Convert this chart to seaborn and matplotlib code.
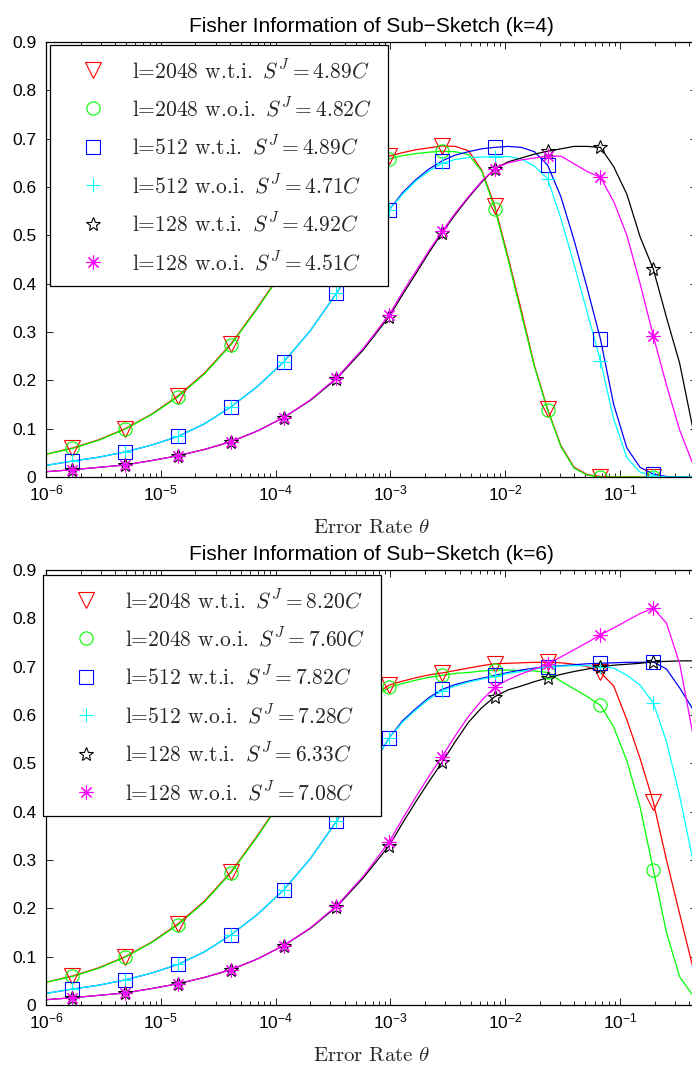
import matplotlib
matplotlib.use("Agg")
import matplotlib.pyplot as plt
import seaborn as sns
from matplotlib.font_manager import FontProperties
from matplotlib.ticker import FixedLocator, FixedFormatter, LogLocator, NullFormatter

# ---------------- data ----------------
THETA = [1.000e-6, 1.698e-6, 2.884e-6, 4.898e-6, 8.318e-6, 1.413e-5, 2.399e-5,
         4.074e-5, 6.918e-5, 1.175e-4, 1.995e-4, 3.388e-4, 5.754e-4,
         9.772e-4, 1.274e-3, 1.660e-3, 2.163e-3, 2.818e-3, 3.673e-3, 4.786e-3,
         6.237e-3, 8.128e-3, 1.059e-2, 1.380e-2, 1.799e-2, 2.344e-2, 3.055e-2,
         3.981e-2, 5.188e-2, 6.761e-2, 8.810e-2, 0.1148, 0.1496, 0.1950,
         0.2541, 0.3311, 0.4315, 0.5623]
MARKER_THETA = [1.698e-6, 4.898e-6, 1.413e-5, 4.074e-5, 1.175e-4, 3.388e-4,
                9.772e-4, 2.818e-3, 8.128e-3, 2.344e-2, 6.761e-2, 0.1950]

TITLES = ["Fisher Information of Sub\u2212Sketch (k=4)",
          "Fisher Information of Sub\u2212Sketch (k=6)"]
SERIES_NAMES = ["l=2048 w.t.i.", "l=2048 w.o.i.", "l=512 w.t.i.",
                "l=512 w.o.i.", "l=128 w.t.i.", "l=128 w.o.i."]
SJ_K4 = ["4.89", "4.82", "4.89", "4.71", "4.92", "4.51"]
SJ_K6 = ["8.20", "7.60", "7.82", "7.28", "6.33", "7.08"]

# k = 4
RED_K4 = [0.047, 0.060, 0.077, 0.100, 0.130, 0.168, 0.215, 0.275, 0.350, 0.430, 0.510, 0.575, 0.625,
          0.664, 0.671, 0.677, 0.681, 0.685, 0.684, 0.675, 0.635, 0.560, 0.455, 0.345, 0.230, 0.140,
          0.065, 0.020, 0.005, 0.001, 0.0, 0.0, 0.0, 0.0, 0.0, 0.0, 0.0, 0.0]
GREEN_K4 = [0.047, 0.059, 0.076, 0.099, 0.129, 0.166, 0.213, 0.273, 0.348, 0.428, 0.505, 0.570, 0.620,
            0.658, 0.665, 0.669, 0.672, 0.674, 0.673, 0.667, 0.633, 0.555, 0.450, 0.338, 0.228, 0.138,
            0.063, 0.018, 0.004, 0.0, 0.0, 0.0, 0.0, 0.0, 0.0, 0.0, 0.0, 0.0]
BLUE_K4 = [0.024, 0.033, 0.041, 0.052, 0.066, 0.084, 0.110, 0.145, 0.187, 0.238, 0.302, 0.380, 0.465,
           0.553, 0.588, 0.615, 0.637, 0.654, 0.666, 0.673, 0.679, 0.682, 0.684, 0.682, 0.673, 0.645,
           0.580, 0.490, 0.390, 0.285, 0.150, 0.060, 0.020, 0.006, 0.001, 0.0, 0.0, 0.0]
CYAN_K4 = [0.024, 0.033, 0.041, 0.052, 0.066, 0.084, 0.110, 0.145, 0.187, 0.238, 0.302, 0.380, 0.465,
           0.553, 0.585, 0.612, 0.633, 0.649, 0.657, 0.661, 0.662, 0.663, 0.663, 0.658, 0.643, 0.617,
           0.535, 0.440, 0.340, 0.240, 0.120, 0.040, 0.010, 0.003, 0.0, 0.0, 0.0, 0.0]
BLACK_K4 = [0.011, 0.015, 0.020, 0.025, 0.034, 0.044, 0.057, 0.073, 0.095, 0.123, 0.158, 0.203, 0.262,
            0.332, 0.377, 0.420, 0.464, 0.505, 0.543, 0.578, 0.610, 0.638, 0.652, 0.660, 0.668, 0.674,
            0.679, 0.684, 0.684, 0.682, 0.642, 0.585, 0.497, 0.430, 0.330, 0.235, 0.100, 0.010]
MAGENTA_K4 = [0.011, 0.015, 0.020, 0.025, 0.034, 0.044, 0.057, 0.073, 0.095, 0.123, 0.159, 0.205, 0.265,
              0.336, 0.382, 0.425, 0.468, 0.508, 0.546, 0.580, 0.612, 0.638, 0.650, 0.656, 0.660, 0.664,
              0.664, 0.648, 0.632, 0.620, 0.570, 0.500, 0.400, 0.292, 0.190, 0.097, 0.027, 0.003]

# k = 6
RED_K6 = [0.047, 0.060, 0.077, 0.100, 0.130, 0.168, 0.215, 0.275, 0.350, 0.430, 0.510, 0.575, 0.625,
          0.662, 0.670, 0.677, 0.683, 0.687, 0.692, 0.697, 0.702, 0.706, 0.707, 0.708, 0.709, 0.709,
          0.708, 0.705, 0.700, 0.688, 0.660, 0.590, 0.510, 0.420, 0.300, 0.188, 0.078, 0.010]
GREEN_K6 = [0.047, 0.059, 0.076, 0.099, 0.129, 0.166, 0.213, 0.273, 0.348, 0.428, 0.505, 0.570, 0.620,
            0.657, 0.665, 0.672, 0.678, 0.682, 0.686, 0.688, 0.691, 0.693, 0.693, 0.692, 0.691, 0.688,
            0.670, 0.654, 0.638, 0.620, 0.575, 0.505, 0.410, 0.280, 0.150, 0.058, 0.020, 0.005]
BLUE_K6 = [0.024, 0.033, 0.041, 0.052, 0.066, 0.084, 0.110, 0.145, 0.187, 0.238, 0.302, 0.380, 0.465,
           0.553, 0.588, 0.613, 0.636, 0.653, 0.663, 0.670, 0.676, 0.682, 0.688, 0.693, 0.697, 0.700,
           0.702, 0.704, 0.706, 0.707, 0.708, 0.709, 0.709, 0.710, 0.695, 0.656, 0.612, 0.550]
CYAN_K6 = [0.024, 0.033, 0.041, 0.052, 0.066, 0.084, 0.110, 0.145, 0.187, 0.238, 0.302, 0.380, 0.465,
           0.553, 0.585, 0.610, 0.633, 0.650, 0.660, 0.668, 0.674, 0.680, 0.686, 0.690, 0.695, 0.700,
           0.701, 0.702, 0.702, 0.700, 0.697, 0.682, 0.662, 0.625, 0.545, 0.432, 0.300, 0.170]
BLACK_K6 = [0.011, 0.015, 0.020, 0.025, 0.034, 0.044, 0.057, 0.073, 0.095, 0.123, 0.158, 0.203, 0.262,
            0.330, 0.376, 0.420, 0.462, 0.502, 0.545, 0.585, 0.615, 0.638, 0.652, 0.660, 0.669, 0.677,
            0.684, 0.690, 0.695, 0.700, 0.703, 0.705, 0.707, 0.710, 0.711, 0.712, 0.712, 0.712]
MAGENTA_K6 = [0.011, 0.015, 0.020, 0.025, 0.034, 0.044, 0.057, 0.073, 0.095, 0.123, 0.159, 0.205, 0.265,
              0.338, 0.385, 0.430, 0.473, 0.514, 0.557, 0.597, 0.630, 0.658, 0.673, 0.685, 0.695, 0.705,
              0.720, 0.735, 0.750, 0.766, 0.780, 0.795, 0.810, 0.821, 0.790, 0.706, 0.560, 0.400]

X_TICKS = [1e-6, 1e-5, 1e-4, 1e-3, 1e-2, 1e-1]
X_TICK_LABELS = ["$10^{-6}$", "$10^{-5}$", "$10^{-4}$", "$10^{-3}$", "$10^{-2}$", "$10^{-1}$"]
Y_TICKS = [0.0, 0.1, 0.2, 0.3, 0.4, 0.5, 0.6, 0.7, 0.8, 0.9]
Y_TICK_LABELS = ["0", "0.1", "0.2", "0.3", "0.4", "0.5", "0.6", "0.7", "0.8", "0.9"]
X_LABEL = "Error Rate $\\theta$"

PANELS = [
    (TITLES[0], [RED_K4, GREEN_K4, BLUE_K4, CYAN_K4, BLACK_K4, MAGENTA_K4], SJ_K4),
    (TITLES[1], [RED_K6, GREEN_K6, BLUE_K6, CYAN_K6, BLACK_K6, MAGENTA_K6], SJ_K6),
]

# ---------------- style ----------------
COLORS = ["#ff0000", "#00ff00", "#0000ff", "#00ffff", "#000000", "#ff00ff"]
MARKERS = ["v", "o", "s", "+", "*", (8, 2, 0)]
MSIZES = [12, 9.5, 9.5, 10, 10.5, 10]

sns.set_theme(style="white")
plt.rcParams.update({
    "font.family": ["Liberation Sans", "DejaVu Sans"],
    "mathtext.fontset": "custom",
    "mathtext.rm": "Liberation Sans",
    "mathtext.it": "Liberation Sans:italic",
    "mathtext.bf": "Liberation Sans:bold",
    "axes.unicode_minus": True,
})

W_PX, H_PX = 692, 1065
fig = plt.figure(figsize=(W_PX / 100, H_PX / 100), dpi=100)

AX_LEFT, AX_RIGHT = 46, 697
AX_BOXES = [(42, 477), (570, 1005)]
LEG_BOXES = [(50, 45, 388, 285), (43, 575, 381, 816)]

serif_big = FontProperties(family="cmr10", size=15.5, math_fontfamily="cm")
serif_lab = FontProperties(family="cmr10", size=15, math_fontfamily="cm")

for (title, series, sj), (top, bot), (lx0, ly0, lx1, ly1) in zip(PANELS, AX_BOXES, LEG_BOXES):
    ax = fig.add_axes([AX_LEFT / W_PX, 1 - bot / H_PX,
                       (AX_RIGHT - AX_LEFT) / W_PX, (bot - top) / H_PX])
    ax.set_xscale("log")
    for vals, c in zip(series, COLORS):
        sns.lineplot(x=THETA, y=vals, ax=ax, color=c, linewidth=0.9,
                     estimator=None, sort=False, legend=False)
    handles = []
    for vals, c, m, ms in zip(series, COLORS, MARKERS, MSIZES):
        mx = [t for t in THETA if t in MARKER_THETA]
        my = [v for t, v in zip(THETA, vals) if t in MARKER_THETA]
        sns.lineplot(x=mx, y=my, ax=ax, color=c,
                     linestyle="none", marker=m, markersize=ms,
                     markerfacecolor="none", markeredgecolor=c,
                     markeredgewidth=0.8, estimator=None, sort=False,
                     legend=False)
        handles.append(ax.lines[-1])
    labels = [f"{n} $\\,S^J = {s}C$" for n, s in zip(SERIES_NAMES, sj)]

    ax.set_xlim(1e-6, 10 ** (-6 + (AX_RIGHT - AX_LEFT) / 114.8))
    ax.set_ylim(0, 0.9)
    ax.xaxis.set_major_locator(FixedLocator(X_TICKS))
    ax.xaxis.set_major_formatter(FixedFormatter(X_TICK_LABELS))
    ax.xaxis.set_minor_locator(LogLocator(base=10, subs=[2, 3, 4, 5, 6, 7, 8, 9], numticks=20))
    ax.xaxis.set_minor_formatter(NullFormatter())
    ax.yaxis.set_major_locator(FixedLocator(Y_TICKS))
    ax.yaxis.set_major_formatter(FixedFormatter(Y_TICK_LABELS))
    ax.tick_params(which="both", direction="in", top=True, right=True,
                   bottom=True, left=True, colors="black", labelsize=12.5)
    ax.tick_params(which="major", length=5, width=0.6)
    ax.tick_params(which="minor", length=2.7, width=0.6)
    ax.tick_params(axis="y", pad=7)
    ax.tick_params(axis="x", pad=5)
    for sp in ax.spines.values():
        sp.set_visible(True)
        sp.set_color("black")
        sp.set_linewidth(0.9)
    ax.grid(False)
    ax.set_ylabel("")
    ax.set_xlabel(X_LABEL, fontproperties=serif_lab, labelpad=11)
    ax.set_title(title, fontsize=15, pad=7, color="black")

    leg = ax.legend(handles, labels, loc="upper left",
                    bbox_to_anchor=(lx0 / W_PX, 1 - ly1 / H_PX,
                                    (lx1 - lx0) / W_PX, (ly1 - ly0) / H_PX),
                    bbox_transform=fig.transFigure, mode="expand",
                    borderaxespad=0, prop=serif_big, frameon=True,
                    fancybox=False, edgecolor="black", framealpha=1,
                    handlelength=2.8, handletextpad=0.41, borderpad=0.6,
                    labelspacing=0.68, numpoints=1)
    leg.get_frame().set_linewidth(0.9)

fig.savefig("out.png", dpi=100)
